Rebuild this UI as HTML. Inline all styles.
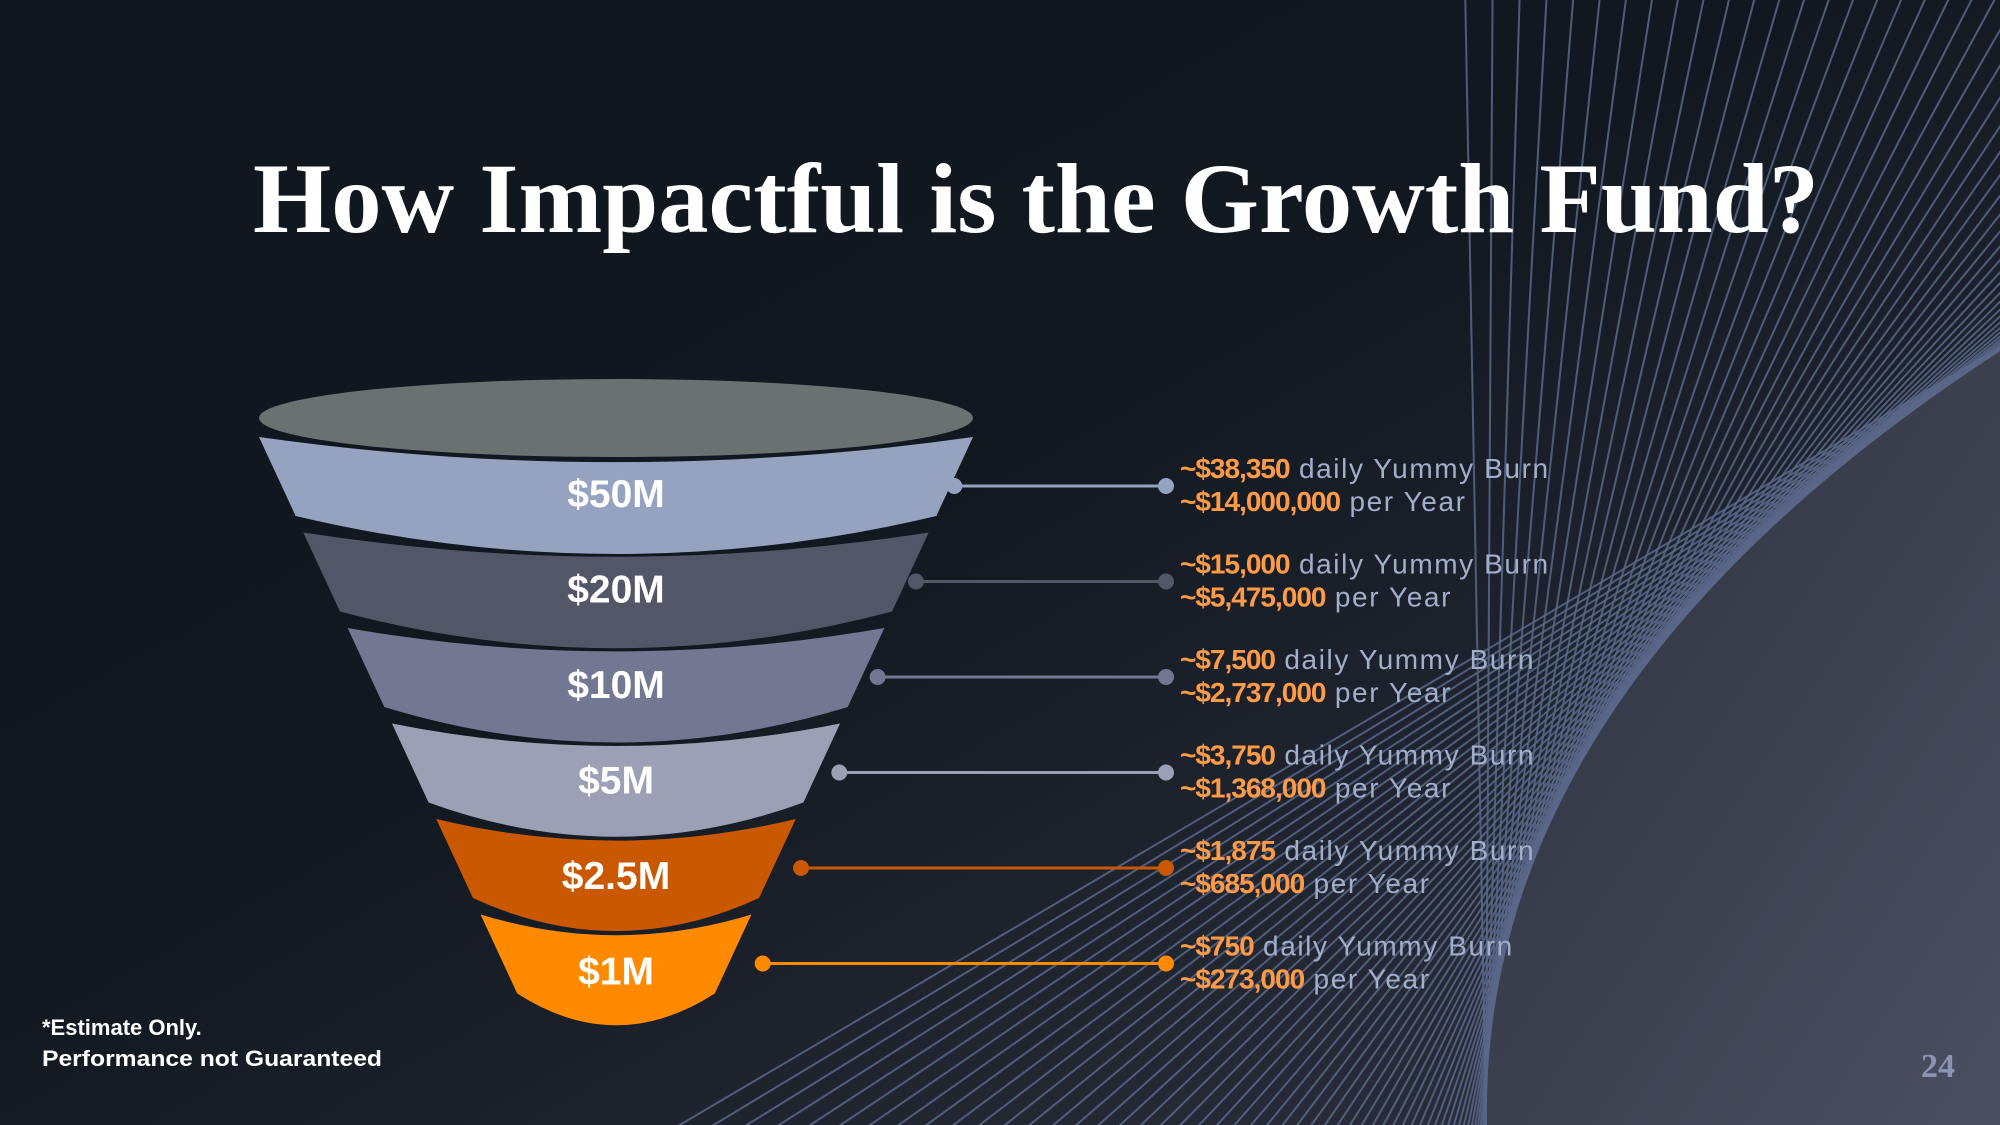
<!DOCTYPE html>
<html><head><meta charset="utf-8"><style>
html,body{margin:0;padding:0;background:#10161e;width:2000px;height:1125px;overflow:hidden;}
svg{display:block;}
</style></head><body>
<svg id="chart" width="2000" height="1125" viewBox="0 0 2000 1125" xmlns="http://www.w3.org/2000/svg">
<defs>
<linearGradient id="bg" x1="0" y1="0" x2="1" y2="1">
<stop offset="0" stop-color="#10161e"/><stop offset="0.45" stop-color="#121820"/><stop offset="1" stop-color="#2f3441"/>
</linearGradient>
<linearGradient id="rg" x1="0" y1="0" x2="1" y2="1">
<stop offset="0" stop-color="#2c313d"/><stop offset="1" stop-color="#4b4f60"/>
</linearGradient>
<clipPath id="frame"><rect width="2000" height="1125"/></clipPath>
</defs>
<rect width="2000" height="1125" fill="url(#bg)"/>
<g id="deco" clip-path="url(#frame)"></g>
<text x="1036" y="232" text-anchor="middle" textLength="1566" lengthAdjust="spacingAndGlyphs" font-family="'Liberation Serif', serif" font-weight="bold" font-size="100" fill="#ffffff">How Impactful is the Growth Fund?</text>
<ellipse cx="616" cy="418" rx="357" ry="39" fill="#6b7070"/>
<g id="funnel"></g>
<g id="notes"></g>
<text x="42" y="1035" font-family="'Liberation Sans', sans-serif" font-weight="bold" font-size="22" fill="#ffffff">*Estimate Only.</text>
<text x="42" y="1066" textLength="340" lengthAdjust="spacingAndGlyphs" font-family="'Liberation Sans', sans-serif" font-weight="bold" font-size="22" fill="#ffffff">Performance not Guaranteed</text>
<text x="1938" y="1077" text-anchor="middle" font-family="'Liberation Serif', serif" font-weight="bold" font-size="34" fill="#8b95b3">24</text>
</svg>
<script>
const stageLabels = ["$50M","$20M","$10M","$5M","$2.5M","$1M"];
const dailyBurn = ["~$38,350","~$15,000","~$7,500","~$3,750","~$1,875","~$750"];
const yearlyBurn = ["~$14,000,000","~$5,475,000","~$2,737,000","~$1,368,000","~$685,000","~$273,000"];
const stageColors = ["#95a3c0","#525667","#737892","#9ba0b4","#c95800","#ff8a00"];

const NS = "http://www.w3.org/2000/svg";
function mk(tag, attrs, parent){ const e=document.createElementNS(NS,tag); for(const k in attrs) e.setAttribute(k,attrs[k]); parent.appendChild(e); return e; }

// decoration: tangent lines of a quadratic curve
const deco = document.getElementById('deco');
const P0=[1486,1125], P1=[1478,690], P2=[2000,350];
let d = `M${P0[0]},${P0[1]} Q${P1[0]},${P1[1]} ${P2[0]},${P2[1]} L2000,1125 Z`;
const region = mk('path',{d:d,fill:'url(#rg)'},deco);


const N=54;
for(let i=0;i<=N;i++){
  const t=i/N*1.08;
  const a=[P0[0]+(P1[0]-P0[0])*t, P0[1]+(P1[1]-P0[1])*t];
  const b=[P1[0]+(P2[0]-P1[0])*t, P1[1]+(P2[1]-P1[1])*t];
  const dx=b[0]-a[0], dy=b[1]-a[1];
  const L=3000/Math.hypot(dx,dy);
  const ln = mk('line',{x1:a[0]-dx*L,y1:a[1]-dy*L,x2:a[0]+dx*L,y2:a[1]+dy*L,stroke:'#5a6789','stroke-width':2,'stroke-opacity':0.85},deco);
  
  
}

// funnel
const funnel=document.getElementById('funnel');
const notes=document.getElementById('notes');
const cx=616, top0=437, period=95.5, bandH=79, slope=0.464, halfTop=357;
function half(y){ return halfTop-(y-top0)*slope; }
stageLabels.forEach((lab,i)=>{
  const yt=top0+i*period, yb=yt+bandH;
  const ht=half(yt), hb=half(yb);
  const st=18+0.02*ht, sb=29+0.028*hb;
  const p=`M${cx-ht},${yt} Q${cx},${yt+2*st} ${cx+ht},${yt} L${cx+hb},${yb} Q${cx},${yb+2*sb} ${cx-hb},${yb} Z`;
  const band=mk('path',{d:p,fill:stageColors[i]},funnel);
  
  
  const tx=mk('text',{x:cx,y:yt+70,'text-anchor':'middle','font-family':"'Liberation Sans', sans-serif",'font-weight':'bold','font-size':39,fill:'#ffffff'},funnel);
  tx.textContent=lab;
  
  

  const ly=yt+49;
  const lx=cx+half(ly)+4+i*6;
  const ln=mk('line',{x1:lx,y1:ly,x2:1166,y2:ly,stroke:stageColors[i],'stroke-width':3},notes);
  
  
  [lx,1166].forEach(x=>{
    const c=mk('circle',{cx:x,cy:ly,r:8,fill:stageColors[i]},notes);
    
    
  });
  const t1=mk('text',{x:1180,y:ly-8,'font-family':"'Liberation Sans', sans-serif",'font-size':28,fill:'#a3aecb'},notes);
  
  
  const o1=mk('tspan',{'font-weight':'bold',fill:'#ff9a45','letter-spacing':'-1'},t1); o1.textContent=dailyBurn[i];
  const g1=mk('tspan',{'letter-spacing':'1.6'},t1); g1.textContent=' daily Yummy Burn';
  const t2=mk('text',{x:1180,y:ly+25,'font-family':"'Liberation Sans', sans-serif",'font-size':28,fill:'#a3aecb'},notes);
  
  
  const o2=mk('tspan',{'font-weight':'bold',fill:'#ff9a45','letter-spacing':'-1'},t2); o2.textContent=yearlyBurn[i];
  const g2=mk('tspan',{'letter-spacing':'1.6'},t2); g2.textContent=' per Year';
});
</script>
</body></html>
